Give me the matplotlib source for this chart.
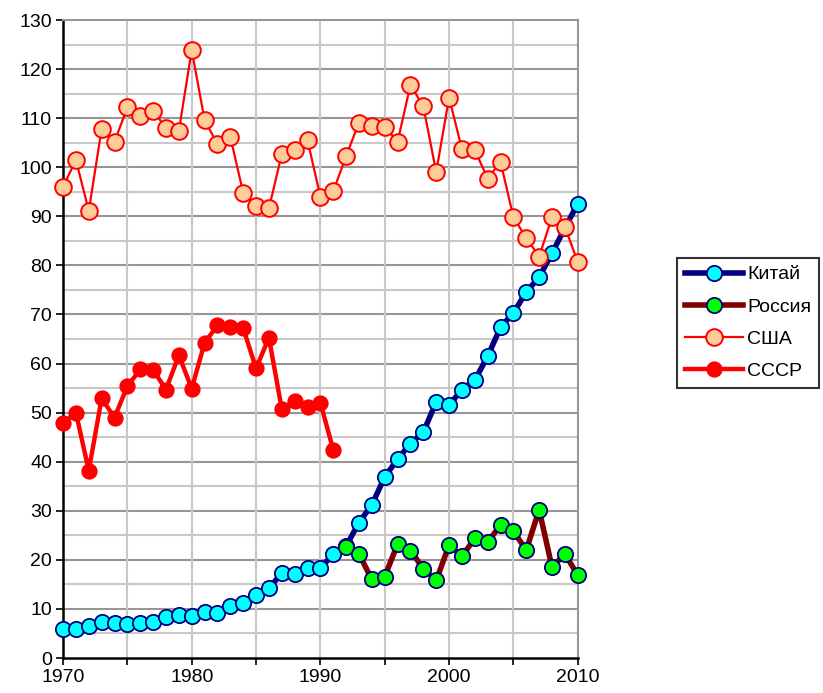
import matplotlib
matplotlib.use("Agg")
import matplotlib.pyplot as plt
import numpy as np

plt.rcParams['font.family'] = ['Liberation Sans', 'DejaVu Sans']

# values
years = np.arange(1970, 2011)

china = [6.0, 6.0, 6.5, 7.4, 7.2, 6.9, 7.2, 7.3, 8.3, 8.8,
         8.6, 9.3, 9.1, 10.6, 11.2, 12.9, 14.2, 17.3, 17.2, 18.4,
         18.4, 21.1, 22.8, 27.6, 31.2, 36.9, 40.5, 43.7, 46.0, 52.2,
         51.5, 54.7, 56.6, 61.5, 67.4, 70.3, 74.6, 77.6, 82.5, 87.6,
         92.6]

russia_years = np.arange(1992, 2011)
russia = [22.7, 21.2, 16.0, 16.6, 23.2, 21.9, 18.2, 15.8, 23.0, 20.7,
          24.4, 23.6, 27.1, 25.8, 22.0, 30.2, 18.5, 21.2, 16.9]

usa = [96.0, 101.5, 91.1, 107.8, 105.2, 112.2, 110.5, 111.5, 108.0, 107.4,
       123.9, 109.6, 104.7, 106.2, 94.8, 92.1, 91.6, 102.7, 103.6, 105.5,
       94.0, 95.1, 102.3, 109.1, 108.5, 108.3, 105.2, 116.8, 112.4, 99.0,
       114.2, 103.7, 103.5, 97.7, 101.1, 89.8, 85.6, 81.8, 89.8, 87.9,
       80.7]

ussr_years = np.arange(1970, 1992)
ussr = [47.8, 50.0, 38.2, 52.9, 49.0, 55.4, 58.8, 58.7, 54.7, 61.7,
        54.9, 64.2, 67.8, 67.5, 67.2, 59.0, 65.3, 50.7, 52.4, 51.1,
        52.0, 42.4]

fig = plt.figure(figsize=(8.23, 6.93), dpi=100)
ax = fig.add_axes([0.0766, 0.0505, 0.6254, 0.9206])

# grid
for v in range(5, 130, 10):
    ax.axhline(v, color='#c8c8c8', lw=1.5, zorder=0)
for v in range(10, 130, 10):
    ax.axhline(v, color='#969696', lw=1.5, zorder=0)
for v in range(1975, 2010, 5):
    ax.axvline(v, color='#c8c8c8', lw=1.5, zorder=0)

ax.plot(years, china, color='#000080', lw=4, marker='o', ms=11,
        mfc='#00ffff', mec='#000080', mew=1.3, label='Китай', clip_on=False, zorder=3)
ax.plot(russia_years, russia, color='#800000', lw=4, marker='o', ms=11,
        mfc='#00ff00', mec='#000080', mew=1.3, label='Россия', clip_on=False, zorder=4)
ax.plot(years, usa, color='#ff0000', lw=1.6, marker='o', ms=12,
        mfc='#ffcc99', mec='#ff0000', mew=1.4, label='США', clip_on=False, zorder=5)
ax.plot(ussr_years, ussr, color='#ff0000', lw=3.2, marker='o', ms=10.5,
        mfc='#ff0000', mec='#ff0000', mew=1.2, label='СССР', clip_on=False, zorder=6)

ax.set_xlim(1970, 2010)
ax.set_ylim(0, 130)
ax.set_xticks(range(1970, 2011, 5))
ax.set_xticklabels([str(y) if y % 10 == 0 else '' for y in range(1970, 2011, 5)])
ax.set_yticks(range(0, 131, 10))
ax.tick_params(direction='out', length=5, width=1.2, labelsize=14, pad=3)

ax.spines['left'].set_linewidth(1.8)
ax.spines['bottom'].set_linewidth(1.8)
ax.spines['top'].set_color('#969696')
ax.spines['right'].set_color('#969696')
ax.spines['top'].set_linewidth(1.5)
ax.spines['right'].set_linewidth(1.5)

leg = fig.legend(loc='upper left', bbox_to_anchor=(0.8226, 0.6277), fontsize=14,
                 frameon=True, fancybox=False, edgecolor='black', handlelength=3.0,
                 handletextpad=0.2, labelspacing=0.75, borderpad=0.4, borderaxespad=0)
leg.get_frame().set_linewidth(1.5)

fig.savefig('out.png', dpi=100)
